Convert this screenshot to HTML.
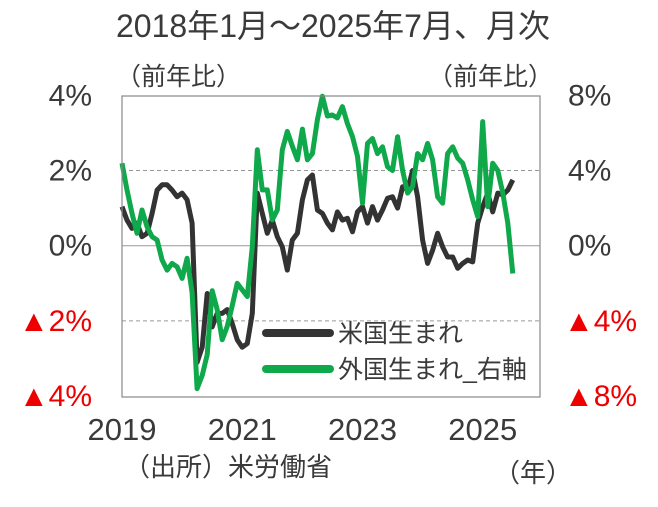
<!DOCTYPE html>
<html><head><meta charset="utf-8">
<style>
body{margin:0;background:#fff;}
svg text{font-family:"Liberation Sans","Noto Sans CJK JP",sans-serif;fill:#3a3a3a;}
</style></head>
<body>
<svg width="658" height="502" viewBox="0 0 658 502">
<text x="333" y="37" font-size="32" text-anchor="middle">2018年1月～2025年7月、月次</text>
<text x="116" y="85" font-size="25">（前年比）</text>
<text x="428" y="85" font-size="25">（前年比）</text>
<g id="grid"></g>
<g id="ticks"></g>
<g id="series"></g>
<rect x="122" y="96" width="418" height="301" fill="none" stroke="#888" stroke-width="1.2"/>
<g>
<line x1="266" y1="333" x2="330" y2="333" stroke="#333" stroke-width="8" stroke-linecap="round"/>
<text x="338" y="342" font-size="25">米国生まれ</text>
<line x1="266" y1="369" x2="330" y2="369" stroke="#0fa84a" stroke-width="8" stroke-linecap="round"/>
<text x="338" y="378" font-size="25">外国生まれ_右軸</text>
</g>
<text x="124" y="476" font-size="26">（出所）米労働省</text>
<text x="494" y="482" font-size="26">（年）</text>
</svg>
<script>
const leftTicks=[4,2,0,-2,-4];
const leftLabels=["4%","2%","0%","▲2%","▲4%"];
const rightLabels=["8%","4%","0%","▲4%","▲8%"];
const xLabels=["2019","2021","2023","2025"];
const xLabelMonths=[0,24,48,72];
const usBorn=[1.04,0.68,0.46,0.6,0.24,0.33,0.86,1.48,1.62,1.62,1.48,1.3,1.4,1.22,0.6,-3.1,-2.7,-1.27,-2.16,-1.8,-1.8,-1.7,-2.07,-2.5,-2.7,-2.6,-1.8,1.4,0.86,0.33,0.68,0.24,-0.03,-0.65,0.15,0.33,1.22,1.75,1.88,0.95,0.86,0.6,0.42,0.9,0.68,0.73,0.37,0.9,1.04,0.6,1.04,0.68,0.95,1.26,1.3,1.0,1.57,1.48,2.0,1.3,0.15,-0.47,-0.12,0.33,-0.03,-0.3,-0.3,-0.6,-0.47,-0.38,-0.43,0.6,1.04,1.4,0.9,1.4,1.35,1.48,1.75];
const foreignBorn=[4.39,2.97,1.72,0.66,1.9,1.0,0.48,0.3,-0.76,-1.3,-0.94,-1.12,-1.74,-0.67,-2.5,-7.6,-6.9,-5.8,-2.4,-3.4,-5.0,-4.3,-3.2,-2.0,-2.35,-2.7,-0.05,5.1,2.97,2.97,1.37,1.9,5.1,6.08,5.3,4.57,6.2,4.57,4.9,6.7,7.95,6.9,6.95,6.8,7.4,6.5,5.8,4.75,2.26,5.44,5.7,4.9,5.26,4.2,4.0,5.8,4.0,2.8,3.15,4.9,4.57,5.44,4.57,2.6,2.26,4.9,5.26,4.66,4.39,3.5,2.44,1.55,6.6,2.08,4.39,4.0,2.8,1.2,-1.48];
const NS="http://www.w3.org/2000/svg";
const yL=v=>245.7-v*37.6;
const yR=v=>245.7-v*18.8;
const xM=m=>122+m*5.01;
const grid=document.getElementById('grid'),ticks=document.getElementById('ticks'),series=document.getElementById('series');
leftTicks.forEach((t,i)=>{
 const y=yL(t);
 if(t!==4&&t!==-4){
  const l=document.createElementNS(NS,'line');
  l.setAttribute('x1',122);l.setAttribute('x2',540);l.setAttribute('y1',y);l.setAttribute('y2',y);
  l.setAttribute('stroke','#999');l.setAttribute('stroke-width',1);
  if(t!==0)l.setAttribute('stroke-dasharray','4,3');
  
  
  grid.appendChild(l);
 }
 const red=t<0;
 const a=document.createElementNS(NS,'text');
 a.setAttribute('x',92);a.setAttribute('y',y+10);a.setAttribute('font-size',30);a.setAttribute('text-anchor','end');
 if(red)a.setAttribute('style','fill:#e00');
 a.textContent=leftLabels[i];
 
 
 ticks.appendChild(a);
 const b=document.createElementNS(NS,'text');
 b.setAttribute('x',red?564:568);b.setAttribute('y',y+10);b.setAttribute('font-size',30);
 if(red)b.setAttribute('style','fill:#e00');
 b.textContent=rightLabels[i];
 
 
 ticks.appendChild(b);
});
xLabels.forEach((s,i)=>{
 const t=document.createElementNS(NS,'text');
 t.setAttribute('x',xM(xLabelMonths[i]));t.setAttribute('y',440);t.setAttribute('font-size',31);t.setAttribute('text-anchor','middle');
 t.textContent=s;
 
 
 ticks.appendChild(t);
});
function line(arr,yf,color,name){
 const p=document.createElementNS(NS,'polyline');
 p.setAttribute('points',arr.map((v,i)=>xM(i).toFixed(1)+','+Math.max(96,yf(v)).toFixed(1)).join(' '));
 p.setAttribute('fill','none');p.setAttribute('stroke',color);p.setAttribute('stroke-width',5);p.setAttribute('stroke-linejoin','round');
 
 
 series.appendChild(p);
}
line(usBorn,yL,'#333','us-born-line');
line(foreignBorn,yR,'#0fa84a','foreign-born-line');
</script>
</body></html>
